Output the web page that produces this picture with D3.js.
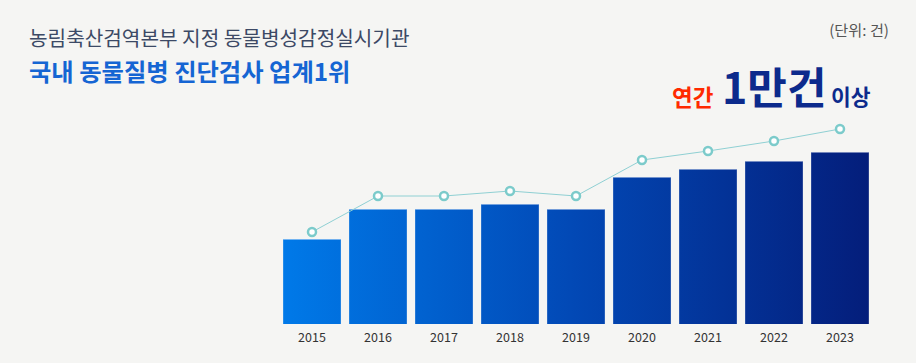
<!DOCTYPE html>
<html>
<head>
<meta charset="utf-8">
<script src="https://cdn.jsdelivr.net/npm/d3@7"></script>
<style>
    html, body { margin: 0; padding: 0; background: #f5f5f3; }
    svg { display: block; font-family: "Noto Sans CJK KR", "Noto Sans", sans-serif; }
</style>
</head>
<body>
<svg width="916" height="363"></svg>
<script>
// values (no labels on the original)
const years      = ["2015", "2016", "2017", "2018", "2019", "2020", "2021", "2022", "2023"];
const barValues  = [8500, 11500, 11500, 12000, 11500, 14700, 15500, 16300, 17200];
const lineValues = [9200, 12800, 12800, 13300, 12800, 16400, 17300, 18300, 19500];

const svg    = d3.select("svg");
const width  = +svg.attr("width");
const height = +svg.attr("height");

const x = d3.scaleBand()
    .domain(years)
    .range([279, 873])
    .paddingInner(0.126)
    .paddingOuter(0.063);

const y = d3.scaleLinear()
    .domain([0, 20000])
    .range([324, 124]);

const grad = svg.append("defs").append("linearGradient")
    .attr("id", "barGrad")
    .attr("gradientUnits", "userSpaceOnUse")
    .attr("x1", x.range()[0]).attr("x2", x.range()[1])
    .attr("y1", 0).attr("y2", 0);
grad.append("stop").attr("offset", "0%").attr("stop-color", "#007ae9");
grad.append("stop").attr("offset", "50%").attr("stop-color", "#0248b5");
grad.append("stop").attr("offset", "100%").attr("stop-color", "#041d7a");

// titles
svg.append("text")
    .attr("x", 29).attr("y", 46)
    .attr("font-size", 20.2)
    .attr("fill", "#3c4965")
    .text("농림축산검역본부 지정 동물병성감정실시기관");

svg.append("text")
    .attr("x", 29).attr("y", 81)
    .attr("font-size", 24.3)
    .attr("font-weight", "bold")
    .attr("fill", "#1565d3")
    .text("국내 동물질병 진단검사 업계1위");

svg.append("text")
    .attr("x", 889).attr("y", 36)
    .attr("text-anchor", "end")
    .attr("font-size", 15.2)
    .attr("fill", "#555")
    .text("(단위: 건)");

// "연간 1만건 이상"
svg.append("text")
    .attr("x", 672).attr("y", 106)
    .attr("font-size", 22.5).attr("font-weight", "bold")
    .attr("fill", "#ff2a00")
    .text("연간");
svg.append("text")
    .attr("x", 722).attr("y", 104)
    .attr("font-size", 43).attr("font-weight", "bold")
    .attr("fill", "#0c2a8c")
    .text("1만건");
svg.append("text")
    .attr("x", 831).attr("y", 105)
    .attr("font-size", 21.5).attr("font-weight", "bold")
    .attr("fill", "#0c2a8c")
    .text("이상");

// bars
const bars = svg.append("g")
    .selectAll("g")
    .data(years)
    .enter().append("g");

bars.append("rect")
    .attr("x", d => x(d))
    .attr("y", (d, i) => y(barValues[i]))
    .attr("width", x.bandwidth())
    .attr("height", (d, i) => y(0) - y(barValues[i]))
    .attr("fill", "url(#barGrad)");

bars.append("line")
    .attr("x1", d => x(d))
    .attr("x2", d => x(d) + x.bandwidth())
    .attr("y1", (d, i) => y(barValues[i]) + 0.5)
    .attr("y2", (d, i) => y(barValues[i]) + 0.5)
    .attr("stroke", "#ffffff")
    .attr("stroke-opacity", 0.45);

// year labels
svg.append("g")
    .selectAll("text")
    .data(years)
    .enter().append("text")
    .attr("x", d => x(d) + x.bandwidth() / 2)
    .attr("y", 342)
    .attr("text-anchor", "middle")
    .attr("font-size", 12.5)
    .attr("fill", "#333")
    .text(d => d);

// line + markers
const line = d3.line()
    .x((d, i) => x(years[i]) + x.bandwidth() / 2)
    .y(d => y(d));

svg.append("path")
    .datum(lineValues)
    .attr("d", line)
    .attr("fill", "none")
    .attr("stroke", "#8fd0d3")
    .attr("stroke-width", 1);

svg.append("g")
    .selectAll("circle")
    .data(lineValues)
    .enter().append("circle")
    .attr("cx", (d, i) => x(years[i]) + x.bandwidth() / 2)
    .attr("cy", d => y(d))
    .attr("r", 4)
    .attr("fill", "#fff")
    .attr("stroke", "#7ccbcb")
    .attr("stroke-width", 2.5);
</script>
</body>
</html>
